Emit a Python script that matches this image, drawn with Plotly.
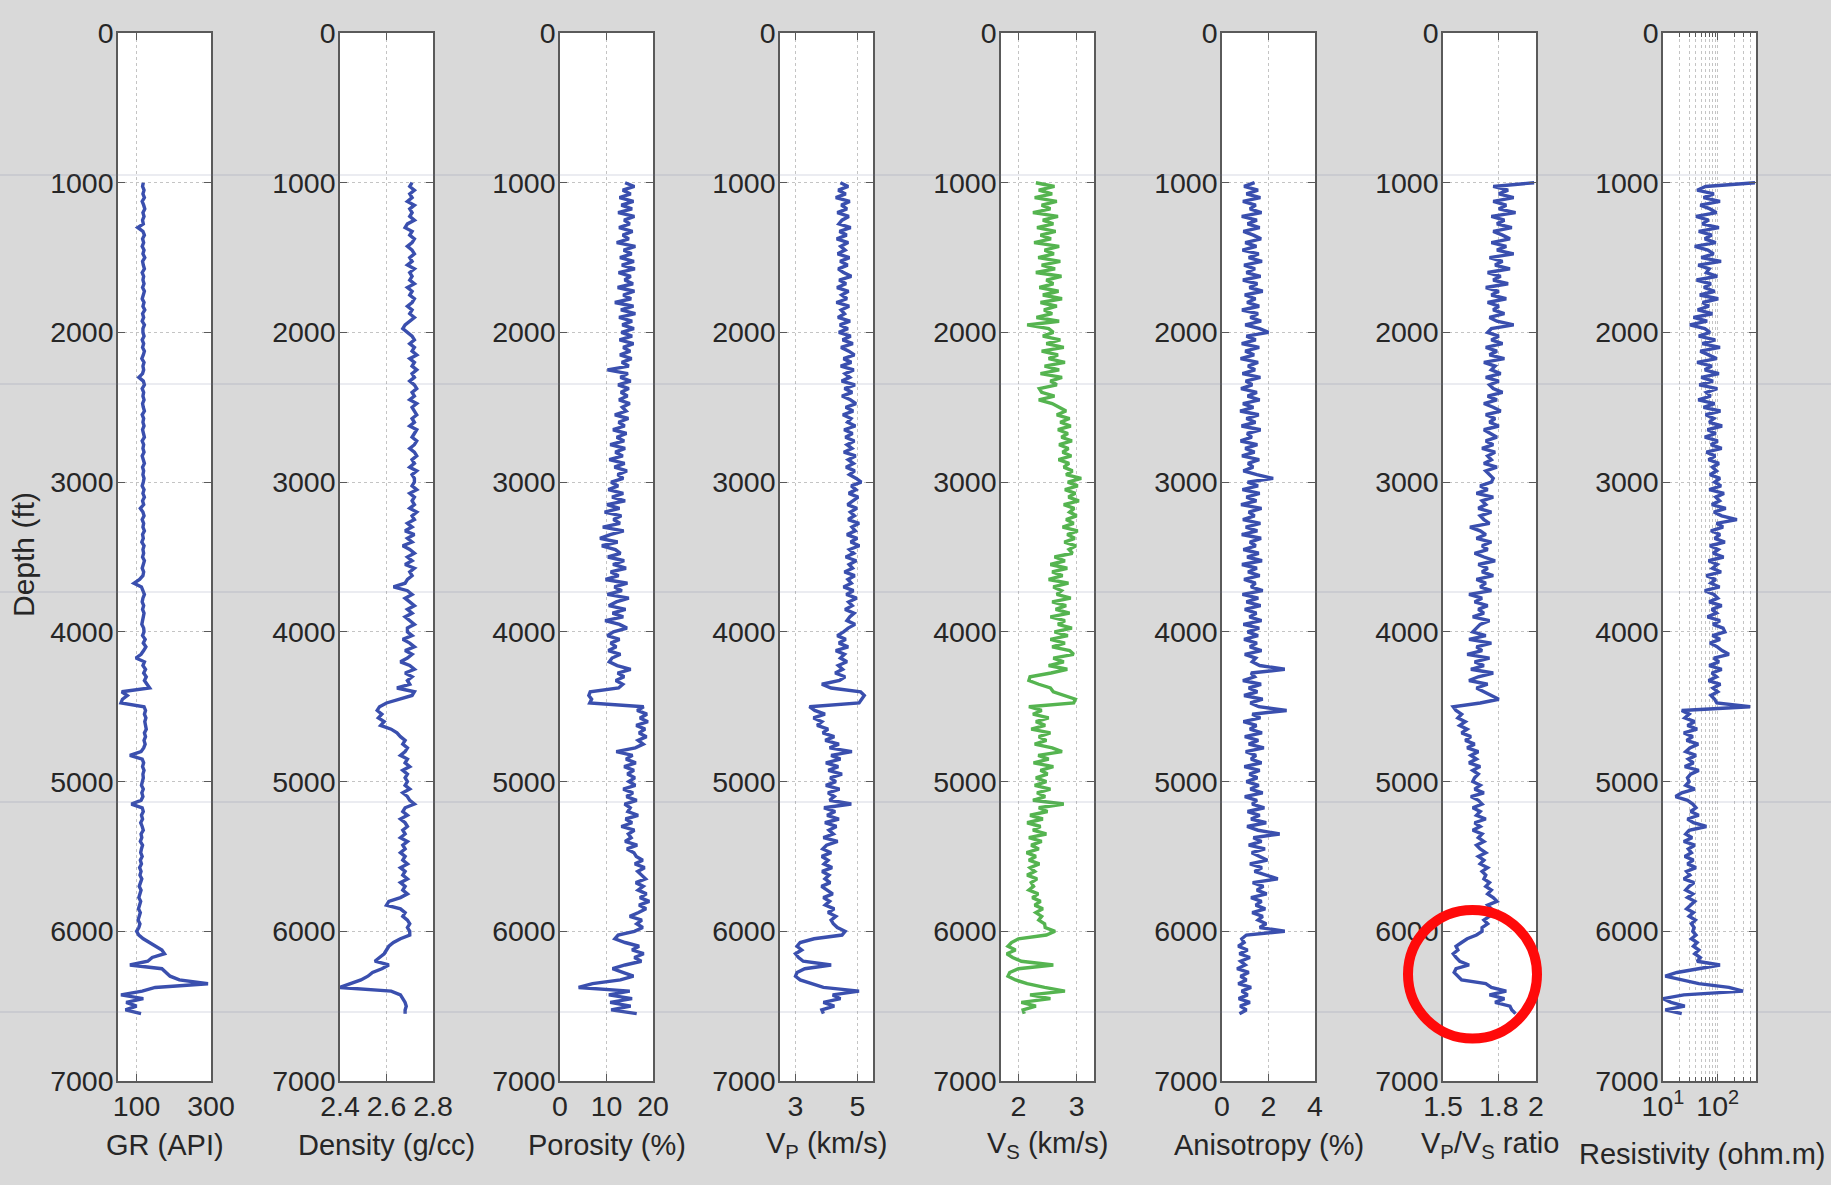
import plotly.graph_objects as go

# ---------------- data ----------------
depth = list(range(1000, 6551, 25))  # ft, sampling grid of the logs

gr = [118,116,120,117,121,115,119,122,117,120, 116,118,103,117,121,116,119,115,120,117,
      122,116,118,121,115,119,117,120,116,121, 118,115,120,117,122,116,119,115,121,117,
      117,120,115,119,116,121,118,114,120,117, 119,116,106,118,121,115,119,117,120,116,
      118,121,115,119,117,120,116,118,121,115, 119,117,120,115,118,121,116,119,117,120,
      118,115,120,117,121,116,119,110,117,120, 115,119,117,121,116,118,114,120,117,119,
      116,121,118,115,119,117,108,93,113,118, 121,117,115,119,116,120,118,115,114,119,
      120,116,123,118,125,119,112,98,121,117, 124,119,126,121,127,135,60,75,62,58,
      120,124,121,125,122,123,126,121,124,120, 123,119,112,82,115,119,116,120,117,118,
      116,113,118,114,117,112,86,115,118,113, 116,111,115,118,112,114,110,116,113,111,
      115,110,113,108,112,109,114,110,107,112, 109,106,111,108,105,110,107,104,109,106,
      100,106,118,135,150,168,175,142,130,82,168,178,190,215,292,150,115,58,118,72,100,70,112]

density = [2.71,2.70,2.72,2.70,2.71,2.69,2.72,2.70,2.71,2.70, 2.72,2.69,2.68,2.71,2.70,2.72,2.71,2.69,2.71,2.72,
           2.70,2.71,2.69,2.72,2.70,2.71,2.70,2.72,2.69,2.71, 2.70,2.72,2.71,2.69,2.71,2.70,2.72,2.70,2.68,2.67,
           2.69,2.71,2.72,2.70,2.72,2.71,2.73,2.70,2.72,2.71, 2.73,2.71,2.72,2.70,2.72,2.73,2.71,2.72,2.70,2.73,
           2.71,2.72,2.73,2.71,2.72,2.70,2.73,2.72,2.71,2.73, 2.72,2.70,2.72,2.73,2.71,2.72,2.70,2.73,2.71,2.72,
           2.72,2.71,2.73,2.70,2.72,2.71,2.72,2.70,2.73,2.71, 2.72,2.69,2.71,2.68,2.72,2.69,2.71,2.67,2.70,2.72,
           2.69,2.71,2.68,2.72,2.70,2.71,2.69,2.68,2.63,2.69, 2.71,2.68,2.70,2.72,2.69,2.71,2.68,2.70,2.72,2.69,
           2.69,2.71,2.67,2.70,2.72,2.68,2.71,2.69,2.66,2.70, 2.72,2.68,2.71,2.69,2.70,2.645,2.72,2.71,2.66,2.60,
           2.57,2.56,2.58,2.565,2.59,2.575,2.62,2.645,2.66,2.68, 2.67,2.69,2.68,2.66,2.69,2.68,2.70,2.67,2.69,2.68,
           2.69,2.68,2.70,2.67,2.69,2.70,2.72,2.68,2.67,2.69, 2.66,2.68,2.69,2.67,2.68,2.66,2.69,2.67,2.68,2.66,
           2.68,2.67,2.69,2.66,2.68,2.67,2.69,2.66,2.68,2.67, 2.69,2.66,2.61,2.60,2.66,2.68,2.67,2.69,2.70,2.69,
           2.70,2.70,2.66,2.63,2.61,2.60,2.59,2.57,2.55,2.61,2.58,2.54,2.52,2.49,2.44,2.40,2.62,2.66,2.67,2.68,2.685,2.68,2.68]

porosity = [14.0,16.0,13.5,15.2,12.8,15.8,13.2,15.5,12.5,16.0, 13.8,15.0,12.7,15.6,13.5,14.8,12.2,16.2,13.7,15.4,
            12.9,15.9,13.3,16.1,12.6,15.2,13.9,15.7,12.4,16.0, 13.6,15.3,11.8,15.8,13.1,16.2,12.7,15.5,13.4,15.9,
            13.2,15.5,12.8,15.8,13.6,15.1,12.9,15.4,13.3,14.8, 10.2,14.6,13.0,15.2,12.5,14.8,13.1,14.5,12.7,15.0,
            13.4,14.2,11.8,14.7,12.6,13.9,11.4,14.3,12.2,13.8, 10.8,14.0,11.9,13.5,10.6,13.9,11.7,14.4,12.4,13.6,
            11.0,12.5,10.4,13.6,11.2,14.0,10.1,12.8,9.6,13.2, 11.5,12.9,9.2,13.7,10.8,8.6,12.4,9.0,11.9,13.0,
            10.3,13.8,11.4,14.2,10.9,12.6,9.8,14.5,11.7,13.3, 10.2,14.8,12.1,10.5,14.1,11.3,13.6,9.7,12.8,14.4,
            11.5,10.2,12.8,10.9,12.1,10.4,13.0,11.2,10.6,12.3, 15.2,12.4,13.8,12.0,13.5,12.6,6.5,6.2,6.8,6.4,
            18.0,16.6,18.7,17.2,18.9,16.4,18.3,17.0,18.6,16.8, 17.9,16.2,12.1,15.6,14.2,16.3,13.8,15.9,14.5,16.1,
            14.8,16.2,13.6,15.7,14.3,16.5,13.9,15.1,14.6,16.8, 14.1,15.5,13.2,16.0,14.7,15.3,14.0,16.6,14.4,15.9,
            16.4,17.8,16.1,18.2,16.7,17.5,18.4,16.3,17.9,16.8, 18.6,17.2,19.2,17.0,18.5,16.9,15.0,17.6,16.5,17.8,
            16.0,12.5,11.8,14.0,17.0,15.5,18.0,16.0,17.5,14.0,11.3,13.5,15.8,13.0,7.0,4.0,15.0,10.5,15.5,10.8,15.2,11.0,16.5]

vp = [4.45,4.70,4.38,4.62,4.30,4.75,4.48,4.66,4.35,4.72, 4.50,4.40,4.78,4.42,4.65,4.33,4.70,4.46,4.60,4.36,
      4.74,4.44,4.68,4.38,4.55,4.80,4.41,4.63,4.34,4.71, 4.49,4.66,4.32,4.73,4.47,4.58,4.37,4.76,4.43,4.69,
      4.40,4.78,4.52,4.85,4.47,4.72,4.90,4.55,4.80,4.46, 4.88,4.60,4.75,4.49,4.92,4.58,4.83,4.50,4.77,4.95,
      4.62,4.86,4.53,4.79,4.68,4.93,4.57,4.84,4.61,4.90, 4.66,4.82,4.56,4.94,4.70,4.87,4.63,4.91,4.74,4.96,
      5.12,4.80,4.95,4.72,5.02,4.85,4.68,4.98,4.77,4.90, 4.70,5.05,4.82,4.93,4.66,4.99,4.78,5.06,4.74,4.88,
      4.62,4.96,4.73,4.84,4.58,4.91,4.69,4.80,4.55,4.87, 4.64,4.97,4.71,4.83,4.60,4.89,4.75,4.66,4.92,4.70,
      4.55,4.35,4.62,4.40,4.70,4.30,4.58,4.45,4.66,4.38, 4.52,4.28,4.60,4.42,3.85,4.15,5.10,5.22,5.15,5.05,
      3.45,3.62,3.95,3.58,3.85,3.70,4.05,3.88,4.25,3.96, 4.40,4.10,4.82,4.15,4.45,3.98,4.38,4.06,4.50,4.12,
      4.30,3.98,4.42,4.05,4.25,4.10,4.80,3.92,4.28,4.02, 4.40,3.95,4.32,4.08,4.22,3.90,4.36,4.00,3.88,4.15,
      3.85,4.05,3.92,4.18,3.86,4.08,3.95,4.12,3.84,4.02, 4.20,3.90,4.10,3.96,4.25,4.05,4.30,4.15,4.22,4.35,
      4.60,4.50,3.60,3.15,3.05,3.20,3.00,3.10,3.25,4.15,3.30,3.05,3.00,3.15,3.50,3.90,5.05,4.20,4.45,3.90,4.25,3.85,3.90]

vs = [2.30,2.62,2.35,2.58,2.28,2.66,2.40,2.55,2.25,2.68, 2.42,2.60,2.32,2.64,2.38,2.56,2.27,2.70,2.45,2.61,
      2.34,2.72,2.40,2.63,2.30,2.74,2.48,2.60,2.36,2.69, 2.42,2.75,2.38,2.66,2.44,2.58,2.31,2.70,2.15,2.52,
      2.60,2.42,2.72,2.48,2.78,2.40,2.68,2.52,2.80,2.45, 2.70,2.38,2.75,2.55,2.66,2.36,2.40,2.62,2.35,2.58,
      2.70,2.82,2.66,2.88,2.72,2.90,2.68,2.85,2.74,2.92, 2.70,2.86,2.76,2.91,2.69,2.87,2.78,2.93,2.82,3.08,
      2.85,3.02,2.80,2.98,2.86,3.04,2.78,2.96,2.88,3.00, 2.82,2.95,2.76,3.02,2.84,2.97,2.79,2.99,2.87,2.93,
      2.62,2.80,2.55,2.84,2.58,2.76,2.52,2.86,2.60,2.74, 2.66,2.90,2.58,2.82,2.64,2.88,2.55,2.80,2.68,2.92,
      2.62,2.85,2.55,2.80,2.58,2.88,2.95,2.60,2.78,2.52, 2.84,2.56,2.20,2.18,2.35,2.55,2.60,2.78,2.98,2.95,
      2.18,2.40,2.25,2.52,2.30,2.46,2.22,2.55,2.35,2.48, 2.28,2.58,2.75,2.34,2.52,2.26,2.60,2.38,2.50,2.30,
      2.48,2.28,2.55,2.32,2.46,2.25,2.78,2.35,2.50,2.20, 2.42,2.15,2.38,2.25,2.48,2.18,2.40,2.22,2.35,2.14,
      2.30,2.18,2.36,2.20,2.28,2.15,2.32,2.22,2.26,2.18, 2.34,2.24,2.38,2.28,2.42,2.30,2.40,2.35,2.45,2.46,
      2.63,2.48,2.00,1.88,1.82,1.95,1.80,1.90,2.05,2.60,2.00,1.85,1.82,1.95,2.15,2.45,2.80,2.20,2.55,2.05,2.30,2.08,2.10]

anisotropy = [1.40,0.95,1.55,1.05,1.65,0.90,1.45,1.20,1.70,0.85, 1.50,1.10,1.62,0.92,1.35,1.68,1.00,1.48,0.88,1.58,
              1.15,1.72,0.95,1.42,1.05,1.66,0.90,1.52,1.18,1.75, 0.98,1.44,1.08,1.60,0.86,1.55,1.22,1.68,1.00,1.62,
              2.00,1.05,1.45,0.85,1.60,1.00,1.38,0.80,1.55,1.12, 1.42,0.88,1.65,1.02,1.30,0.82,1.50,1.10,1.62,0.90,
              1.35,0.78,1.58,1.05,1.44,0.84,1.66,1.08,1.28,0.80, 1.52,1.00,1.40,0.86,1.60,1.12,1.34,0.92,1.50,2.20,
              1.10,1.55,0.88,1.62,1.05,1.48,0.82,1.70,1.15,1.40, 0.90,1.65,1.02,1.52,0.85,1.68,1.20,1.45,0.92,1.58,
              1.08,1.72,0.86,1.50,1.12,1.62,0.95,1.44,1.25,1.75, 0.88,1.56,1.05,1.66,0.98,1.48,1.18,1.70,0.92,1.60,
              1.10,1.55,0.95,1.50,1.20,1.70,0.98,1.45,1.30,1.62, 2.70,1.25,1.40,0.90,1.68,1.15,1.52,0.95,1.75,1.22,
              1.58,2.78,1.30,1.65,0.92,1.48,1.20,1.72,0.98,1.56, 1.15,1.80,1.02,1.46,1.25,1.70,0.96,1.62,1.18,1.52,
              1.05,1.58,1.22,1.75,0.98,1.50,1.30,1.82,1.10,1.62, 1.25,1.90,1.08,1.55,2.48,1.35,1.70,1.15,1.85,1.28,
              1.62,1.95,1.20,1.72,1.40,1.88,2.40,1.32,1.78,1.50, 1.92,1.25,1.70,1.45,1.86,1.30,1.75,1.55,1.90,1.62,
              2.70,1.05,0.85,0.95,0.70,1.10,0.75,1.20,0.80,1.00,0.65,1.15,0.80,1.05,0.70,1.25,0.85,1.10,0.72,1.20,0.78,1.05,0.75]

vpvs = [1.99,1.77,1.85,1.80,1.88,1.77,1.84,1.80,1.89,1.76, 1.83,1.79,1.87,1.77,1.82,1.86,1.76,1.84,1.79,1.88,
        1.75,1.82,1.78,1.86,1.74,1.81,1.77,1.85,1.73,1.80, 1.76,1.84,1.74,1.80,1.77,1.83,1.75,1.79,1.88,1.76,
        1.74,1.80,1.76,1.82,1.73,1.79,1.75,1.83,1.72,1.78, 1.76,1.81,1.73,1.80,1.75,1.77,1.82,1.74,1.79,1.72,
        1.77,1.81,1.73,1.78,1.75,1.80,1.72,1.76,1.79,1.73, 1.77,1.71,1.78,1.74,1.76,1.72,1.79,1.73,1.75,1.77,
        1.76,1.70,1.74,1.68,1.77,1.71,1.73,1.69,1.76,1.70, 1.72,1.75,1.645,1.70,1.73,1.68,1.76,1.71,1.74,1.67,
        1.72,1.78,1.69,1.74,1.71,1.77,1.68,1.73,1.70,1.76, 1.64,1.71,1.67,1.74,1.69,1.72,1.66,1.75,1.70,1.68,
        1.66,1.73,1.64,1.76,1.68,1.71,1.63,1.75,1.67,1.72, 1.65,1.77,1.69,1.64,1.74,1.68,1.72,1.76,1.80,1.70,
        1.555,1.57,1.60,1.58,1.62,1.59,1.63,1.60,1.65,1.62, 1.67,1.63,1.69,1.65,1.68,1.64,1.70,1.66,1.69,1.67,
        1.66,1.70,1.67,1.72,1.65,1.69,1.71,1.66,1.70,1.68, 1.73,1.67,1.70,1.66,1.71,1.69,1.72,1.68,1.70,1.73,
        1.69,1.72,1.70,1.74,1.71,1.73,1.72,1.75,1.73,1.76, 1.74,1.77,1.79,1.74,1.76,1.73,1.75,1.72,1.74,1.71,
        1.71,1.68,1.63,1.60,1.57,1.58,1.555,1.57,1.59,1.64,1.57,1.56,1.58,1.60,1.73,1.76,1.84,1.75,1.83,1.78,1.86,1.87,1.89]

resistivity = [480,60,42,85,55,110,48,72,95,40, 68,52,105,45,78,58,92,38,66,84,
               50,115,44,70,62,98,41,75,56,88, 47,102,53,69,43,80,36,64,31,58,
               72,45,90,52,110,48,68,95,42,78, 58,105,50,82,46,98,62,74,44,88,
               55,112,60,85,70,120,65,92,58,100, 75,118,62,90,68,105,80,95,72,110,
               88,115,70,130,92,108,78,140,85,118, 224,95,125,75,110,88,135,72,102,82,
               128,68,98,80,115,62,92,75,108,58, 85,100,70,118,78,95,65,110,82,125,
               135,80,110,72,98,120,160,85,105,70, 118,78,95,68,112,82,100,75,88,96,
               390,22,30,25,38,28,42,24,35,27, 44,31,26,40,29,36,25,45,32,28,
               30,26,38,22,17,28,35,40,32,45, 28,36,62,30,26,34,24,38,29,33,
               25,36,28,40,27,31,24,37,30,26, 35,28,38,32,27,36,30,39,33,37,
               35,40,33,42,36,45,38,48,42,110,45,18,11,22,45,160,290,24,10,14,25,11,22]

titles = ["GR (API)", "Density (g/cc)", "Porosity (%)", "V<sub>P</sub> (km/s)",
          "V<sub>S</sub> (km/s)", "Anisotropy (%)", "V<sub>P</sub>/V<sub>S</sub> ratio",
          "Resistivity (ohm.m)"]
series = [gr, density, porosity, vp, vs, anisotropy, vpvs, resistivity]
x_ranges = [[50, 300], [2.4, 2.8], [0, 20], [2.5, 5.5], [1.7, 3.3], [0, 4], [1.5, 2.0], [1, 2.69897]]
x_tickvals = [[100, 300], [2.4, 2.6, 2.8], [0, 10, 20], [3, 5], [2, 3], [0, 2, 4], [1.5, 1.8, 2.0], [10, 100]]
x_ticktext = [["100", "300"], ["2.4", "2.6", "2.8"], ["0", "10", "20"], ["3", "5"], ["2", "3"],
              ["0", "2", "4"], ["1.5", "1.8", "2"], ["10<sup>1</sup>", "10<sup>2</sup>"]]
res_minor = [20, 30, 40, 50, 60, 70, 80, 90, 200, 300, 400]
depth_ticks = [0, 1000, 2000, 3000, 4000, 5000, 6000, 7000]

for s in series:
    assert len(s) == len(depth), len(s)

# ---------------- styling / layout ----------------
W, H = 1831, 1185
lefts = [118, 340, 560, 780, 1001, 1222, 1443, 1663]
PW = 93
TOP, BOT = 33, 1081
ydom = [1 - BOT / H, 1 - TOP / H]

BLUE = "#3a4fae"
GREEN = "#55b450"
AXC = "#5a5a5a"
GRIDC = "#c4c4c4"
TXT = "#262626"
FONT = "Liberation Sans, Arial, Helvetica, sans-serif"
colors = [BLUE, BLUE, BLUE, BLUE, GREEN, BLUE, BLUE, BLUE]
TICKSIZE = 28.5

fig = go.Figure()
layout_axes = {}
for i in range(8):
    n = i + 1
    sfx = "" if n == 1 else str(n)
    fig.add_trace(go.Scatter(
        x=series[i], y=depth, mode="lines",
        line=dict(color=colors[i], width=3.4),
        xaxis="x" + sfx, yaxis="y" + sfx, hoverinfo="skip", showlegend=False))
    xd = [lefts[i] / W, (lefts[i] + PW) / W]
    xa = dict(domain=xd, anchor="y" + sfx, range=x_ranges[i],
              tickmode="array", tickvals=x_tickvals[i], ticktext=x_ticktext[i],
              ticks="inside", ticklen=7, tickwidth=1.3, tickcolor=AXC,
              showline=True, linecolor=AXC, linewidth=1.5, mirror="ticks",
              showgrid=True, gridcolor=GRIDC, griddash="dot", gridwidth=1,
              zeroline=False, tickfont=dict(size=TICKSIZE, color=TXT, family=FONT),
              ticklabelstandoff=-1, automargin=False, fixedrange=True)
    if i == 7:
        xa["type"] = "log"
        xa["minor"] = dict(tickmode="array", tickvals=res_minor, ticks="inside", ticklen=4,
                           tickcolor=AXC, showgrid=True, gridcolor=GRIDC, griddash="dot")
    ya = dict(domain=ydom, anchor="x" + sfx, range=[7000, 0],
              tickmode="array", tickvals=depth_ticks,
              ticks="inside", ticklen=7, tickwidth=1.3, tickcolor=AXC,
              showline=True, linecolor=AXC, linewidth=1.5, mirror="ticks",
              showgrid=True, gridcolor=GRIDC, griddash="dot", gridwidth=1,
              zeroline=False, tickfont=dict(size=TICKSIZE, color=TXT, family=FONT),
              ticklabelstandoff=-3, automargin=False, fixedrange=True)
    layout_axes["xaxis" + sfx] = xa
    layout_axes["yaxis" + sfx] = ya

annotations = []
for i in range(8):
    yc = 1154 if i == 7 else 1145
    xc = (lefts[i] + PW / 2) if i < 7 else 1702
    annotations.append(dict(
        text=titles[i], xref="paper", yref="paper",
        x=xc / W, y=1 - yc / H, xanchor="center", yanchor="middle",
        showarrow=False, font=dict(size=29, color=TXT, family=FONT)))
annotations.append(dict(
    text="Depth (ft)", xref="paper", yref="paper", x=23 / W, y=1 - 555 / H,
    xanchor="center", yanchor="middle", textangle=-90, showarrow=False,
    font=dict(size=30, color=TXT, family=FONT)))

shapes = []
# faint horizontal scan lines crossing the whole picture
for yy in [175, 384, 592, 802, 1012]:
    shapes.append(dict(type="line", xref="paper", yref="paper", x0=0, x1=1,
                       y0=1 - yy / H, y1=1 - yy / H, layer="above",
                       line=dict(color="rgba(110,118,150,0.28)", width=1)))
# red highlight circle
shapes.append(dict(type="circle", xref="paper", yref="paper",
                   x0=1408 / W, x1=1537 / W, y0=1 - 1038.5 / H, y1=1 - 910 / H,
                   layer="above", line=dict(color="#ff0a0a", width=10)))

fig.update_layout(
    width=W, height=H, autosize=False,
    margin=dict(l=0, r=0, t=0, b=0, pad=0, autoexpand=False),
    paper_bgcolor="#d9d9d9", plot_bgcolor="white",
    showlegend=False, annotations=annotations, shapes=shapes,
    font=dict(family=FONT, color=TXT), **layout_axes)

fig.write_html("out.html", config={"responsive": False, "displayModeBar": False},
               post_script="document.body.style.margin='0px';document.body.style.overflow='hidden';")
